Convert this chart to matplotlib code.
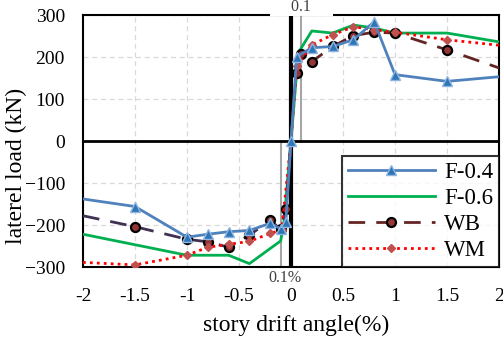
import matplotlib
matplotlib.use("Agg")
import matplotlib.pyplot as plt
import numpy as np

plt.rcParams['font.family'] = ['Liberation Serif', 'DejaVu Serif']

# ---- data ----
f04_x = [-2.0, -1.5, -1.0, -0.8, -0.6, -0.4, -0.2, -0.1, -0.05, 0.0, 0.055, 0.2, 0.4, 0.6, 0.8, 1.0, 1.5, 2.0]
f04_y = [-138, -156, -229, -222, -216, -213, -196, -209, -194, 0, 201, 222, 225, 241, 284, 158, 142, 153]

f06_x = [-2.0, -1.0, -0.6, -0.4, -0.1, -0.07, 0.0, 0.07, 0.2, 0.4, 0.6, 0.8, 1.0, 1.5, 2.0]
f06_y = [-222, -272, -272, -292, -238, -200, 0, 210, 262, 257, 276, 269, 257, 257, 236]

wb_x = [-2.0, -1.5, -1.0, -0.8, -0.6, -0.4, -0.2, -0.1, -0.05, 0.0, 0.055, 0.1, 0.2, 0.4, 0.6, 0.8, 1.0, 1.5, 2.0]
wb_y = [-178, -204, -234, -240, -253, -224, -189, -210, -163, 0, 163, 206, 189, 225, 251, 259, 257, 217, 174]

wm_x = [-2.0, -1.5, -1.0, -0.8, -0.6, -0.4, -0.2, -0.09, 0.0, 0.055, 0.2, 0.4, 0.6, 0.8, 1.0, 1.5, 2.0]
wm_y = [-289, -295, -272, -253, -246, -239, -220, -212, 0, 178, 229, 253, 272, 265, 259, 241, 228]

x_ticks = [-2, -1.5, -1, -0.5, 0, 0.5, 1, 1.5, 2]
x_labels = ['-2', '-1.5', '-1', '-0.5', '0', '0.5', '1', '1.5', '2']
y_ticks = [-300, -200, -100, 0, 100, 200, 300]

W, H = 503, 338
fig = plt.figure(figsize=(W / 100, H / 100), dpi=100)
ax = fig.add_axes([83 / W, 1 - 267 / H, 416 / W, 252 / H])
ax.set_xlim(-2, 2)
ax.set_ylim(-300, 300)

ax.grid(True, color='#d9d9d9', linestyle=(0, (4, 3)), linewidth=0.9)
ax.set_axisbelow(True)

# reference lines
ax.plot([0.1, 0.1], [0, 300], color='#a6a6a6', lw=1.5, zorder=1.5)
ax.plot([-0.1, -0.1], [0, -300], color='#a6a6a6', lw=1.5, zorder=1.5)
ax.axhline(0, color='black', lw=2.0, zorder=1.6)
ax.axvline(0, color='black', lw=3.0, zorder=1.6)

def marks(xs):
    return [i for i in range(1, len(xs) - 1)]

def marks_no_origin(xs):
    return [i for i in range(1, len(xs) - 1) if xs[i] != 0.0]

ax.plot(f04_x, f04_y, color='#4f81bd', lw=2.0, marker='^', ms=6.5,
        markerfacecolor='#2e75b6', markeredgecolor='#8eb4e3', markeredgewidth=1.0,
        markevery=marks(f04_x), label='F-0.4', zorder=3.4)
ax.plot(f06_x, f06_y, color='#00b050', lw=2.0, label='F-0.6', zorder=3)
wb_x_arr = np.array(wb_x); wb_y_arr = np.array(wb_y)
neg = wb_x_arr <= 0
ax.plot(wb_x_arr[neg], wb_y_arr[neg], color='#403152', lw=2.0, dashes=(6, 4), zorder=3.1)
ax.plot(wb_x_arr[~neg], wb_y_arr[~neg], color='#632523', lw=2.0, dashes=(6, 4), zorder=3.1)
ax.plot(wb_x, wb_y, linestyle='none', marker='o', ms=6.5,
        markerfacecolor='#943634', markeredgecolor='black', markeredgewidth=1.6,
        markevery=marks_no_origin(wb_x), zorder=3.2)
ax.plot([], [], color='#632523', lw=2.0, dashes=(6, 4), marker='o', ms=6.5,
        markerfacecolor='#943634', markeredgecolor='black', markeredgewidth=1.6, label='WB')
ax.plot(wm_x, wm_y, color='#ff0000', lw=2.0, linestyle=(0, (1, 1.5)), marker='D', ms=4.5,
        markerfacecolor='#c0504d', markeredgecolor='#c0504d',
        markevery=marks_no_origin(wm_x), label='WM', zorder=3.3)

ax.set_xticks(x_ticks)
ax.set_xticklabels(x_labels)
ax.set_yticks(y_ticks)
ax.tick_params(length=0, labelsize=14)
ax.tick_params(axis='x', pad=15)
ax.tick_params(axis='y', pad=13)
for s in ax.spines.values():
    s.set_linewidth(1.5)
    s.set_color('black')

fig.text(296 / W, 1 - 325 / H, 'story drift angle(%)', fontsize=17, ha='center', va='center')
fig.text(16 / W, 1 - 166 / H, 'laterel load (kN)', fontsize=17, ha='center', va='center',
         rotation=90)

ax.text(0.1, 1.0, '     0.1     ', transform=ax.get_xaxis_transform(), ha='center', va='bottom',
        fontsize=11.5, color='#404040', zorder=10,
        bbox=dict(facecolor='white', edgecolor='none', pad=1.0))
fig.text(285 / W, 1 - 278 / H, '0.1%', fontsize=11.5, color='#404040', ha='center', va='center')

leg = ax.legend(loc='lower right', fontsize=16.5, handlelength=3.8, frameon=True,
                fancybox=False, edgecolor='black', borderaxespad=0, labelspacing=0.22,
                borderpad=0.25, handletextpad=0.4)
leg.get_frame().set_linewidth(1.5)
leg.set_zorder(20)

fig.savefig('out.png', dpi=100)
